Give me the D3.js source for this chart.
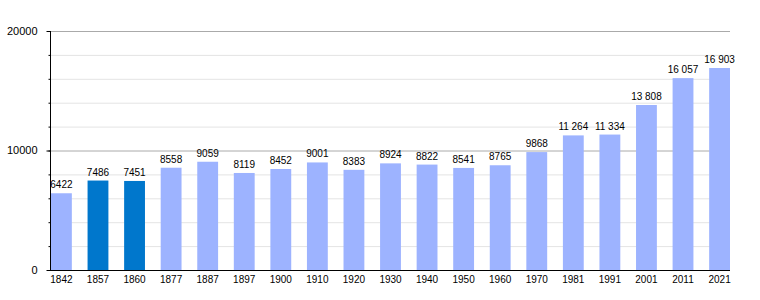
<!DOCTYPE html>
<html lang="fr">
<head>
<meta charset="UTF-8">
<title>Population</title>
<script src="https://cdn.jsdelivr.net/npm/d3@7"></script>
<style>
  body { margin: 0; background: #fff; }
  svg { display: block; font-family: "Liberation Sans", Arial, sans-serif; }
</style>
</head>
<body>
<div id="chart"></div>
<script>
const years = ["1842", "1857", "1860", "1877", "1887", "1897", "1900", "1910", "1920", "1930",
  "1940", "1950", "1960", "1970", "1981", "1991", "2001", "2011", "2021"]
const population = [6422, 7486, 7451, 8558, 9059, 8119, 8452, 9001, 8383, 8924,
  8822, 8541, 8765, 9868, 11264, 11334, 13808, 16057, 16903]
const highlighted = ["1857", "1860"]
const yTicks = [0, 10000, 20000]
const minorTicks = d3.range(0, 20001, 2000)

const width = 760
const height = 300
const plotLeft = 51, plotRight = 730, plotTop = 31, plotBottom = 270

const svg = d3.select("#chart").append("svg")
  .attr("width", width)
  .attr("height", height)

const x = d3.scaleBand()
  .domain(years)
  .range([plotLeft, plotRight])
  .paddingInner(0.43)
  .paddingOuter(0)

const y = d3.scaleLinear()
  .domain([0, 20000])
  .range([plotBottom, plotTop])

// minor grid lines
svg.append("g")
  .selectAll("line")
  .data(minorTicks.filter(d => d % 10000 !== 0))
  .join("line")
  .attr("x1", 50).attr("x2", plotRight)
  .attr("y1", d => y(d) + 0.5).attr("y2", d => y(d) + 0.5)
  .attr("stroke", "#e4e4e4")

// major grid lines
svg.append("g")
  .selectAll("line")
  .data(yTicks.filter(d => d > 0))
  .join("line")
  .attr("x1", 50).attr("x2", plotRight)
  .attr("y1", d => y(d) + 0.5).attr("y2", d => y(d) + 0.5)
  .attr("stroke", "#aaaaaa")

// bars
svg.append("g")
  .selectAll("rect")
  .data(years)
  .join("rect")
  .attr("x", d => x(d))
  .attr("y", (d, i) => y(population[i]))
  .attr("width", x.bandwidth())
  .attr("height", (d, i) => y(0) - y(population[i]))
  .attr("fill", d => highlighted.includes(d) ? "#0077cc" : "#9db3ff")

// value labels
const fmt = v => v >= 10000 ? d3.format(",")(v).replace(",", "\u00a0") : String(v)
svg.append("g")
  .selectAll("text")
  .data(years)
  .join("text")
  .attr("x", d => x(d) + x.bandwidth() / 2)
  .attr("y", (d, i) => y(population[i]) - 5)
  .attr("text-anchor", "middle")
  .attr("font-size", 10)
  .attr("fill", "#000")
  .text((d, i) => fmt(population[i]))

// y axis
const yAxis = svg.append("g")
  .attr("transform", `translate(50.5,0)`)
yAxis.append("line")
  .attr("y1", plotTop).attr("y2", plotBottom)
  .attr("stroke", "#000")
yAxis.selectAll(".minor")
  .data(minorTicks)
  .join("line")
  .attr("class", "minor")
  .attr("x1", -2).attr("x2", 0)
  .attr("y1", d => y(d) + 0.5).attr("y2", d => y(d) + 0.5)
  .attr("stroke", "#000")
yAxis.selectAll(".major")
  .data(yTicks)
  .join("line")
  .attr("class", "major")
  .attr("x1", -4).attr("x2", 0)
  .attr("y1", d => y(d) + 0.5).attr("y2", d => y(d) + 0.5)
  .attr("stroke", "#000")
yAxis.selectAll("text")
  .data(yTicks)
  .join("text")
  .attr("x", -13)
  .attr("y", d => y(d))
  .attr("dy", "0.35em")
  .attr("text-anchor", "end")
  .attr("font-size", 11)
  .text(d => d)

// x axis
const xAxis = svg.append("g")
  .attr("transform", `translate(0,${plotBottom + 0.5})`)
xAxis.append("line")
  .attr("x1", 50).attr("x2", plotRight)
  .attr("stroke", "#000")
xAxis.selectAll("text")
  .data(years)
  .join("text")
  .attr("x", d => x(d) + x.bandwidth() / 2)
  .attr("y", 12)
  .attr("text-anchor", "middle")
  .attr("font-size", 10)
  .text(d => d)
</script>
</body>
</html>
